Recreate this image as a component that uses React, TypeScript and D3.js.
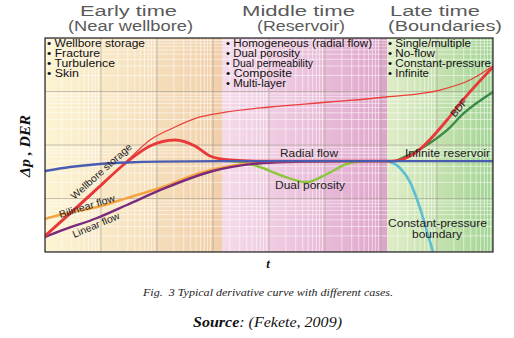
import React from "react";
import * as d3 from "d3";

// ---- data (t, value) ----
const radialFlow: [number, number][] = [
  [1, 32.7], [2.8, 38.8], [9.6, 44.2], [29, 47.1], [112, 49], [1333, 50], [1e5, 50], [1e8, 50],
];
const wellboreStorage: [number, number][] = [
  [1, 2.0], [2.8, 5.27], [9.6, 17.1], [29, 48.1], [75, 95.8], [209, 124], [477, 95.8],
  [884, 62.3], [2013, 52.4], [6900, 50], [1.45e6, 50], [2.18e6, 52.4], [4.05e6, 70.8],
  [1.51e7, 293], [2.91e7, 693], [1e8, 2871],
];
const pressureCurve: [number, number][] = [
  [1, 1.95], [9.6, 16.4], [33, 57], [75, 124], [193, 208], [586, 334], [1334, 396],
  [10400, 513], [1.23e5, 636], [1.23e6, 789], [1.13e7, 1066], [3.88e7, 1640], [1e8, 2997],
];
const bilinearFlow: [number, number][] = [
  [1, 4.14], [2.1, 5.13], [8.5, 6.93], [29, 10.2], [128, 16.4], [586, 30], [2013, 40.5],
  [6900, 46.1], [23700, 49], [122700, 50],
];
const linearFlow: [number, number][] = [
  [1, 1.91], [2.1, 2.58], [8.5, 4.32], [29, 7.56], [128, 15.1], [1000, 32.7], [7810, 46.1],
  [35800, 49], [185000, 50],
];
const dualPorosity: [number, number][] = [
  [1638, 50], [3727, 46.1], [6906, 38.8], [15700, 27.5], [47700, 20.3], [108600, 28.7],
  [247000, 44.2], [518000, 50], [1e6, 50],
];
const noFlowBoundary: [number, number][] = [
  [1.78e6, 50], [2.18e6, 54.7], [7.5e6, 109], [1.6e7, 200], [2.91e7, 380], [1e8, 979],
];
const constantPressure: [number, number][] = [
  [1.28e6, 50], [2.18e6, 37.2], [3.3e6, 20.3], [4.97e6, 6.64], [6.9e6, 2.08], [8.48e6, 1.0], [9.6e6, 0.57],
];

const earlyItems = ["• Wellbore storage", "• Fracture", "• Turbulence", "• Skin"];
const earlyWidths = [98, 53, 68, 32];
const middleItems = ["• Homogeneous (radial flow)", "• Dual porosity", "• Dual permeability", "• Composite", "• Multi-layer"];
const middleWidths = [146, 74, 87, 66, 60];
const lateItems = ["• Single/multiple", "• No-flow", "• Constant-pressure", "• Infinite"];
const lateWidths = [83, 47, 103, 41];

const L = 45, R = 493, T = 38, B = 252;
const SANS = "'Liberation Sans', Arial, Helvetica, sans-serif";
const SERIF = "'Liberation Serif', 'Times New Roman', serif";

export default function App() {
  const x = d3.scaleLog().domain([1, 1e8]).range([L, R]);
  const y = d3.scaleLog().domain([1, 1e4]).range([B, T]);
  const line = d3
    .line<[number, number]>()
    .x((d) => x(d[0]))
    .y((d) => y(d[1]))
    .curve(d3.curveMonotoneX);

  const xMajor = d3.range(0, 9).map((d) => Math.pow(10, d));
  const xMinor: number[] = [];
  for (let d = 0; d < 8; d++) for (let k = 2; k <= 9; k++) xMinor.push(k * Math.pow(10, d));
  const yMajor = d3.range(0, 5).map((d) => Math.pow(10, d));
  const yMinor: number[] = [];
  for (let d = 0; d < 4; d++) for (let k = 2; k <= 9; k++) yMinor.push(k * Math.pow(10, d));

  const series = [
    { data: dualPorosity, color: "#8cc63f", w: 2.4 },
    { data: bilinearFlow, color: "#f4a340", w: 2.4 },
    { data: linearFlow, color: "#7a2a7c", w: 2.4 },
    { data: pressureCurve, color: "#e8403b", w: 1.3 },
    { data: noFlowBoundary, color: "#3a8a48", w: 2.4 },
    { data: constantPressure, color: "#5cc0d0", w: 2.6 },
    { data: wellboreStorage, color: "#e8383a", w: 2.8 },
    { data: radialFlow, color: "#4a5cb0", w: 2.4 },
  ];

  const xEarlyEnd = 222, xMidEnd = 387;

  return (
    <svg width={514} height={338} style={{ display: "block", position: "absolute", left: 0, top: 0 }}>
      <defs>
        <linearGradient id="gEarly" x1="0" x2="1" y1="0" y2="0">
          <stop offset="0" stopColor="#fcf4d4" />
          <stop offset="0.5" stopColor="#f7e3c0" />
          <stop offset="1" stopColor="#f1cfab" />
        </linearGradient>
        <linearGradient id="gMid" x1="0" x2="1" y1="0" y2="0">
          <stop offset="0" stopColor="#f5dbea" />
          <stop offset="0.5" stopColor="#ebc2dc" />
          <stop offset="1" stopColor="#dea4ca" />
        </linearGradient>
        <linearGradient id="gLate" x1="0" x2="1" y1="0" y2="0">
          <stop offset="0" stopColor="#dfedc8" />
          <stop offset="0.5" stopColor="#c4e1ae" />
          <stop offset="1" stopColor="#a2d494" />
        </linearGradient>
        <clipPath id="plotClip">
          <rect x={L} y={T} width={R - L} height={B - T} />
        </clipPath>
      </defs>

      <rect x={0} y={0} width={514} height={338} fill="#fff" />
      {/* section titles */}
      <g fill="#5a5a5a" fontFamily={SANS} fontSize={14} textAnchor="middle">
        <text x={128.5} y={16} textLength={97} lengthAdjust="spacingAndGlyphs">Early time</text>
        <text x={130.5} y={31} textLength={125} lengthAdjust="spacingAndGlyphs">(Near wellbore)</text>
        <text x={298.5} y={16} textLength={113} lengthAdjust="spacingAndGlyphs">Middle time</text>
        <text x={301} y={31} textLength={88} lengthAdjust="spacingAndGlyphs">(Reservoir)</text>
        <text x={435} y={16} textLength={90} lengthAdjust="spacingAndGlyphs">Late time</text>
        <text x={445} y={31} textLength={114} lengthAdjust="spacingAndGlyphs">(Boundaries)</text>
      </g>

      {/* background bands */}
      <rect x={L} y={T} width={xEarlyEnd - L} height={B - T} fill="url(#gEarly)" />
      <rect x={xEarlyEnd} y={T} width={xMidEnd - xEarlyEnd} height={B - T} fill="url(#gMid)" />
      <rect x={xMidEnd} y={T} width={R - xMidEnd} height={B - T} fill="url(#gLate)" />

      {/* grid */}
      <g clipPath="url(#plotClip)">
        {xMinor.map((v, i) => (
          <line key={"xm" + i} x1={x(v)} x2={x(v)} y1={T} y2={B} stroke="#ffffff" strokeOpacity={0.6} strokeWidth={0.9} />
        ))}
        {yMinor.map((v, i) => (
          <line key={"ym" + i} x1={L} x2={R} y1={y(v)} y2={y(v)} stroke="#ffffff" strokeOpacity={0.6} strokeWidth={0.9} />
        ))}
        {xMajor.map((v, i) => (
          <line key={"xM" + i} x1={x(v)} x2={x(v)} y1={T} y2={B} stroke="#a89f95" strokeOpacity={0.7} strokeWidth={0.9} />
        ))}
        {yMajor.map((v, i) => (
          <line key={"yM" + i} x1={L} x2={R} y1={y(v)} y2={y(v)} stroke="#a89f95" strokeOpacity={0.7} strokeWidth={0.9} />
        ))}
      </g>

      {/* curves */}
      <g clipPath="url(#plotClip)" fill="none" strokeLinecap="round" strokeLinejoin="round">
        {series.map((s, i) => (
          <path key={i} d={line(s.data) || ""} stroke={s.color} strokeWidth={s.w} />
        ))}
      </g>

      {/* frame */}
      <rect x={L} y={T} width={R - L} height={B - T} fill="none" stroke="#222" strokeWidth={1.2} />

      {/* list texts */}
      <g fill="#111" fontFamily={SANS} fontSize={10}>
        {earlyItems.map((t, i) => (
          <text key={"e" + i} x={47} y={47 + i * 10} textLength={earlyWidths[i]} lengthAdjust="spacingAndGlyphs">{t}</text>
        ))}
        {middleItems.map((t, i) => (
          <text key={"m" + i} x={226} y={47 + i * 10} textLength={middleWidths[i]} lengthAdjust="spacingAndGlyphs">{t}</text>
        ))}
        {lateItems.map((t, i) => (
          <text key={"l" + i} x={388} y={47 + i * 10} textLength={lateWidths[i]} lengthAdjust="spacingAndGlyphs">{t}</text>
        ))}
      </g>

      {/* curve labels */}
      <g fill="#222" fontFamily={SANS} fontSize={10} textAnchor="middle">
        <text x={309} y={157} textLength={58} lengthAdjust="spacingAndGlyphs">Radial flow</text>
        <text x={310} y={189} textLength={70} lengthAdjust="spacingAndGlyphs">Dual porosity</text>
        <text x={447.5} y={157} textLength={85} lengthAdjust="spacingAndGlyphs">Infinite reservoir</text>
        <text x={437.5} y={227} textLength={99} lengthAdjust="spacingAndGlyphs">Constant-pressure</text>
        <text x={437} y={238} textLength={50} lengthAdjust="spacingAndGlyphs">boundary</text>
        <text transform="translate(103.5,174) rotate(-42)" textLength={78} lengthAdjust="spacingAndGlyphs">Wellbore storage</text>
        <text transform="translate(88,209.5) rotate(-17)" textLength={58} lengthAdjust="spacingAndGlyphs">Bilinear flow</text>
        <text transform="translate(97.3,228.2) rotate(-23)" textLength={50} lengthAdjust="spacingAndGlyphs">Linear flow</text>
        <text transform="translate(461.5,110) rotate(-50)" textLength={20} lengthAdjust="spacingAndGlyphs">BDF</text>
      </g>

      {/* axis titles */}
      <text
        transform="translate(30,146) rotate(-90)"
        textAnchor="middle"
        fontFamily={SERIF}
        fontSize={15}
        fontWeight="bold"
        fontStyle="italic"
        fill="#111"
        textLength={62}
        lengthAdjust="spacingAndGlyphs"
      >
        Δp , DER
      </text>
      <text x={268} y={268} textAnchor="middle" fontFamily={SERIF} fontSize={13} fontWeight="bold" fontStyle="italic" fill="#111">
        t
      </text>

      {/* caption */}
      <text x={268} y={296} textAnchor="middle" fontFamily={SERIF} fontSize={10.5} fontStyle="italic" fill="#222" textLength={250} lengthAdjust="spacingAndGlyphs">
        Fig.{"\u00A0\u00A0"}3 Typical derivative curve with different cases.
      </text>
      <text x={267.5} y={327} textAnchor="middle" fontFamily={SERIF} fontSize={14} fontStyle="italic" fill="#111" textLength={149} lengthAdjust="spacingAndGlyphs">
        <tspan fontWeight="bold">Source</tspan>: (Fekete, 2009)
      </text>
    </svg>
  );
}
